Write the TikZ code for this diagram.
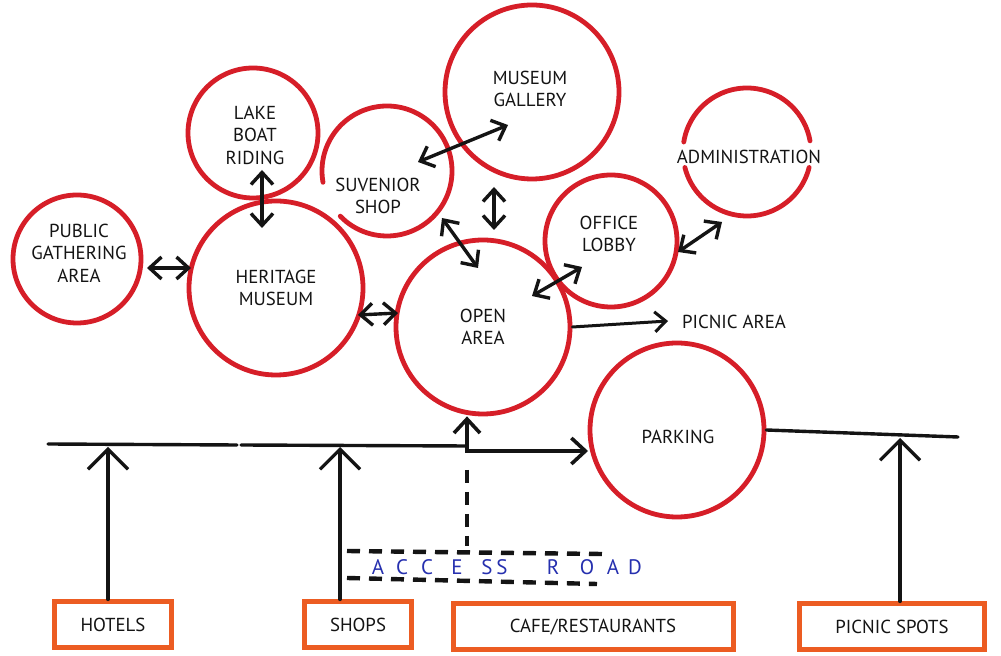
\documentclass[tikz,border=0pt]{standalone}
\usepackage{fontspec}
\setmainfont{PT Sans}
\usetikzlibrary{arrows.meta,calc}
\definecolor{ringred}{RGB}{214,30,40}
\definecolor{boxorange}{RGB}{236,92,34}
\definecolor{inkblue}{RGB}{38,48,175}
\definecolor{ink}{RGB}{20,20,20}
\begin{document}
\begin{tikzpicture}[x=0.5pt,y=-0.5pt,
  ring/.style={circle,draw=ringred,line width=2.4pt,inner sep=0pt},
  ringline/.style={draw=ringred,line width=2.4pt,line cap=round},
  txt/.style={font=\fontsize{9.4}{11.25}\selectfont,align=center,text=ink,inner sep=1pt},
  place/.style={draw=boxorange,line width=2.5pt,minimum height=23pt,inner sep=0pt,
    font=\fontsize{9.4}{11}\selectfont,text=ink},
  duo/.style={draw=ink,line width=1.7pt,line cap=round,
    {Straight Barb[length=6pt,width=11pt]}-{Straight Barb[length=6pt,width=11pt]}},
  uni/.style={draw=ink,line width=1.5pt,line cap=round,
    -{Straight Barb[length=5.5pt,width=10pt]}},
  feed/.style={draw=ink,line width=1.8pt,line cap=round,
    -{Straight Barb[length=7pt,width=13pt]}},
  upway/.style={draw=ink,line width=1.6pt,line cap=round,
    -{Straight Barb[length=10pt,width=20pt]}},
  road/.style={draw=ink,line width=1.7pt,line cap=round},
  roadedge/.style={draw=ink,line width=2.2pt,dash pattern=on 6.5pt off 4.5pt},
  roadletter/.style={font=\fontsize{10.5}{10.5}\selectfont,text=inkblue,inner sep=0pt}
]
\useasboundingbox[fill=white] (0,0) rectangle (1001,656);

% ---------- activity rings ----------
\node[ring,minimum size=64pt] (pga) at (77,259) {};
\node[ring,minimum size=87pt] (heritage) at (276,288) {};
\node[ring,minimum size=65pt] (lake) at (253,133) {};
\node[ring,minimum size=87pt] (gallery) at (532,92) {};
\node[ring,minimum size=66pt] (lobby) at (611,241) {};
\node[ring,minimum size=87pt] (open) at (483,327) {};
\node[ring,minimum size=87pt] (parking) at (677,430) {};

% souvenir shop: ring left open where it meets the museum
\node[ring,draw=none,minimum size=65pt] (shop) at (387,171) {};
\draw[ringline] ([shift={(170:65)}]shop.center) arc[start angle=170,end angle=496,radius=65];

% administration: ring broken by its label
\node[ring,draw=none,minimum size=64pt] (admin) at (747,152) {};
\draw[ringline] ([shift={(14:64)}]admin.center) arc[start angle=14,end angle=166,radius=64];
\draw[ringline] ([shift={(189:64)}]admin.center) arc[start angle=189,end angle=350,radius=64];

% ---------- ring labels ----------
\node[txt] (pga-t) at (79,253) {PUBLIC\\GATHERING\\AREA};
\node[txt] (heritage-t) at (276,288) {HERITAGE\\MUSEUM};
\node[txt] (lake-t) at (255,135) {LAKE\\BOAT\\RIDING};
\node[txt] (shop-t) at (378,196) {SUVENIOR\\SHOP};
\node[txt] (gallery-t) at (530,89) {MUSEUM\\GALLERY};
\node[txt] (admin-t) at (749,157) {ADMINISTRATION};
\node[txt] (lobby-t) at (609,234) {OFFICE\\LOBBY};
\node[txt] (open-t) at (483,327) {OPEN\\AREA};
\node[txt] (parking-t) at (678,437) {PARKING};
\node[txt] (picnic-t) at (734,322) {PICNIC AREA};

% ---------- links between activities ----------
\coordinate (pga-e) at (147,268);   \coordinate (her-w) at (191,268);
\coordinate (lake-s) at (262,170);  \coordinate (her-n) at (262,228);
\coordinate (her-e) at (358,315);   \coordinate (open-w) at (398,313);
\coordinate (shop-ne) at (418,162); \coordinate (gal-sw) at (508,125);
\coordinate (shop-se) at (442,218); \coordinate (open-nw) at (478,268);
\coordinate (gal-s) at (494,187);   \coordinate (open-n) at (494,230);
\coordinate (open-ne) at (532,296); \coordinate (lob-sw) at (582,267);
\coordinate (lob-e) at (678,252);   \coordinate (adm-sw) at (722,222);
\coordinate (pa-tip) at (668,321);

\draw[duo] (pga-e) -- (her-w);
\draw[duo] (lake-s) -- (her-n);
\draw[duo] (her-e) -- (open-w);
\draw[duo] (shop-ne) -- (gal-sw);
\draw[duo] (shop-se) -- (open-nw);
\draw[duo] (gal-s) -- (open-n);
\draw[duo] (open-ne) -- (lob-sw);
\draw[duo] (lob-e) -- (adm-sw);
\draw[uni] (open.east) -- (pa-tip);

% ---------- main road ----------
\coordinate (rd-w) at (48,444);
\coordinate (rd-gap1) at (237,445);
\coordinate (rd-gap2) at (241,445);
\coordinate (jn) at (467,446);
\coordinate (park-in) at (588,451);
\coordinate (rd-e) at (958,437);
\draw[road] (rd-w) -- (rd-gap1);
\draw[road] (rd-gap2) -- (jn);
\draw[road] (parking.east) -- (rd-e);
\draw[feed] (jn) -- (jn |- open.south);
\draw[feed] (jn) |- (park-in);

% ---------- access road ----------
\coordinate (dash-top) at (467,470);
\coordinate (dash-bot) at (467,546);
\draw[roadedge] (dash-top) -- (dash-bot);
\coordinate (ar1a) at (347,551); \coordinate (ar1b) at (602,554);
\coordinate (ar2a) at (347,578); \coordinate (ar2b) at (597,584);
\draw[roadedge] (ar1a) -- (ar1b);
\draw[roadedge] (ar2a) -- (ar2b);
\foreach \ch/\px [count=\k] in {A/378,C/402,C/427,E/457,S/487,S/502,R/553,O/587,A/613,D/635}
  \node[roadletter] (acc\k) at (\px,567) {\ch};

% ---------- surrounding uses ----------
\node[place,minimum width=58.5pt] (hotels) at (113,625) {HOTELS};
\node[place,minimum width=53.5pt] (shops) at (358,625) {SHOPS};
\node[place,minimum width=140pt] (cafe) at (593,627) {CAFE/RESTAURANTS};
\node[place,minimum width=92.5pt] (spots) at (892,627) {PICNIC SPOTS};

\coordinate (hot-end) at (108,447);
\coordinate (shp-end) at (340,447);
\coordinate (spt-end) at (900,438);
\draw[upway] (hotels.north -| hot-end) -- (hot-end);
\draw[upway] (shops.north -| shp-end) -- (shp-end);
\draw[upway] (spots.north -| spt-end) -- (spt-end);
\end{tikzpicture}
\end{document}
